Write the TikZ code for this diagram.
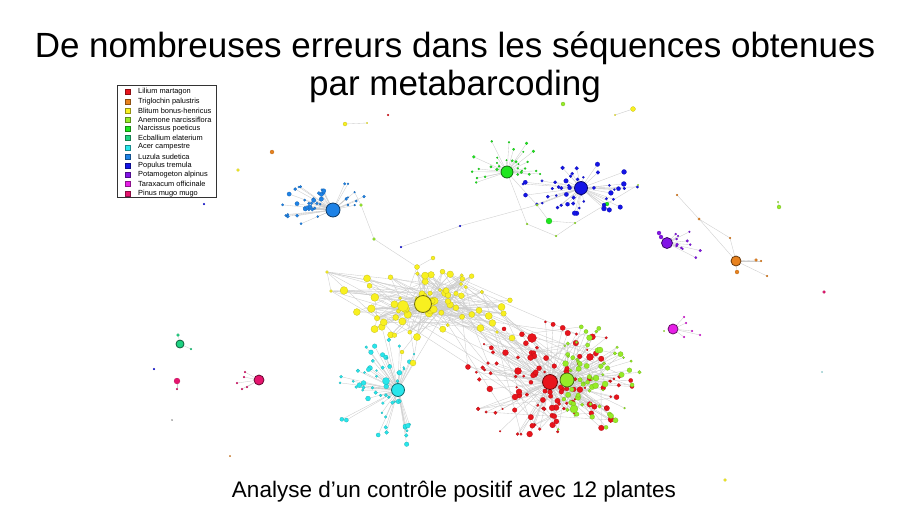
\documentclass[tikz,border=0pt]{standalone}
\usepackage{fontspec}
\setmainfont{Liberation Sans}
\usetikzlibrary{calc,backgrounds}
\definecolor{cLil}{HTML}{E8141C}
\definecolor{cTri}{HTML}{E8821E}
\definecolor{cBli}{HTML}{F8F020}
\definecolor{cAne}{HTML}{96EB28}
\definecolor{cNar}{HTML}{1EE61E}
\definecolor{cEcb}{HTML}{1ED282}
\definecolor{cAce}{HTML}{28E6EB}
\definecolor{cAceL}{HTML}{A8EEF2}
\definecolor{cLuz}{HTML}{1E82E6}
\definecolor{cPop}{HTML}{1414E6}
\definecolor{cPot}{HTML}{8214E6}
\definecolor{cTar}{HTML}{E61EE6}
\definecolor{cPin}{HTML}{E6146E}
\tikzset{
  sat/.style={circle, fill=#1, draw=#1!75!black, line width=0.2pt, inner sep=0pt},
  hub/.style={circle, fill=#1, draw=#1!45!black, line width=0.8pt, inner sep=0pt},
  edge/.style={draw=gray!40, line width=0.35pt},
  legsq/.style={fill=#1, draw=#1!60!black, line width=0.2pt, minimum size=5pt, inner sep=0pt},
  legtxt/.style={font=\fontsize{7.4}{8}\selectfont, anchor=west, inner sep=0pt},
}
\def\asp{1}
% satellites: #1 hub, #2 colour, #3 first index, #4 last index, #5-#6 angle range, #7 dist min, #8 dist max, #9 size min ; \smax size max
\newcommand\fan[9]{%
  \foreach \k in {#3,...,#4}{%
    \pgfmathsetmacro\ang{#5+rnd*(#6-#5)}%
    \pgfmathsetmacro\dd{#7+rnd*(#8-#7)}%
    \pgfmathsetmacro\ss{#9+rnd*(\smax-#9)}%
    \pgfmathsetmacro\dx{\dd*cos(\ang)}%
    \pgfmathsetmacro\dy{\asp*\dd*sin(\ang)}%
    \node[sat=#2, minimum size=\ss pt] (#1-\k) at ($(#1)+(\dx,\dy)$) {};
  }}
% random edges: #1 count, #2 prefix a, #3 n a, #4 prefix b, #5 n b
\newcommand\web[5]{%
  \foreach \k in {1,...,#1}{%
    \pgfmathtruncatemacro\ia{random(1,#3)}%
    \pgfmathtruncatemacro\ib{random(1,#5)}%
    \draw[edge] (#2-\ia) -- (#4-\ib);
  }}
\begin{document}
\begin{tikzpicture}[x=1pt,y=-1pt]
\pgfmathsetseed{12}
\useasboundingbox (0,0) rectangle (910,512);

% titles
\node[anchor=base, font=\fontsize{35}{40}\selectfont] (t1) at (455,57) {De nombreuses erreurs dans les séquences obtenues};
\node[anchor=base, font=\fontsize{35}{40}\selectfont] (t2) at (455,95) {par metabarcoding};
\node[anchor=base, font=\fontsize{22.5}{26}\selectfont] (cap) at (454,497) {Analyse d’un contrôle positif avec 12 plantes};

% legend
\node[draw=black!80, line width=0.6pt, minimum width=99pt, minimum height=112pt, anchor=north west, inner sep=0pt] (leg) at (117,85) {};
\foreach \nm/\cl [count=\i] in {Lilium martagon/cLil, Triglochin palustris/cTri, Blitum bonus-henricus/cBli, Anemone narcissiflora/cAne, Narcissus poeticus/cNar, Ecballium elaterium/cEcb, Acer campestre/cAce, Luzula sudetica/cLuz, Populus tremula/cPop, Potamogeton alpinus/cPot, Taraxacum officinale/cTar, Pinus mugo mugo/cPin}{
  \node[legsq=\cl] (lq\i) at (128,{92+(\i-1)*9.2}) {};
  \node[legtxt] (lt\i) at (138,{92+(\i-1)*9.2}) {\nm};
}

% ---------- satellites (placed first, hubs drawn on top later) ----------
\coordinate (bli) at (423,304);
\coordinate (luz) at (333,210);
\coordinate (nar) at (507,172);
\coordinate (pop) at (581,188);
\coordinate (ace) at (398,390);
\coordinate (lil) at (550,382);
\coordinate (ane) at (567,380);
\coordinate (pot) at (667,243);

\def\asp{0.38}\def\smax{8}
\fan{bli}{cBli}{1}{70}{0}{360}{10}{90}{3}
\def\asp{0.6}\def\smax{4.5}
\fan{luz}{cLuz}{1}{32}{140}{255}{14}{52}{2}
\def\asp{0.7}\def\smax{3}
\fan{luz}{cLuz}{33}{42}{275}{345}{14}{45}{1.5}
\def\asp{0.8}\def\smax{3}
\fan{nar}{cNar}{1}{30}{150}{380}{10}{42}{1.5}
\def\asp{0.42}\def\smax{5}
\fan{pop}{cPop}{1}{48}{0}{360}{10}{62}{1.8}
\def\asp{0.85}\def\smax{5}
\fan{ace}{cAce}{1}{60}{70}{290}{10}{68}{1.8}
\def\asp{0.72}\def\smax{6}
\fan{lil}{cLil}{1}{115}{0}{360}{12}{88}{1.8}
\def\asp{0.75}\def\smax{6}
\fan{ane}{cAne}{1}{65}{-100}{100}{12}{76}{2}
\def\asp{0.7}\def\smax{3}
\fan{pot}{cPot}{1}{12}{-60}{40}{10}{36}{1.8}

% ---------- hubs ----------
\node[hub=cLuz, minimum size=14pt] (luzH) at (luz) {};
\node[hub=cNar, minimum size=12pt] (narH) at (nar) {};
\node[hub=cPop, minimum size=13pt] (popH) at (pop) {};
\node[hub=cBli, minimum size=17pt] (bliH) at (bli) {};
\node[hub=cAce, minimum size=13pt] (aceH) at (ace) {};
\node[hub=cLil, minimum size=15pt] (lilH) at (lil) {};
\node[hub=cAne, minimum size=14pt] (aneH) at (ane) {};
\node[hub=cPot, minimum size=11pt] (potH) at (pot) {};
\node[hub=cTri, minimum size=10pt] (tri) at (736,261) {};
\node[hub=cTar, minimum size=10pt] (tar) at (673,329) {};
\node[hub=cEcb, minimum size=8pt] (ecb) at (180,344) {};
\node[hub=cPin, minimum size=10pt] (pin) at (259,380) {};

% ---------- extra named nodes ----------
\node[sat=cBli, minimum size=11pt] (yb1) at (403,306) {};
\node[sat=cBli, minimum size=3pt] (yl1) at (327,272) {};
\node[sat=cBli, minimum size=3pt] (yl2) at (331,291) {};
\node[sat=cBli, minimum size=5pt] (yt1) at (417,267) {};
\node[sat=cBli, minimum size=4pt] (yt2) at (433,258) {};

\node[sat=cAce, minimum size=7pt] (ab1) at (386,381) {};
\node[sat=cBli, minimum size=6pt] (ay1) at (413,363) {};
\node[sat=cBli, minimum size=4pt] (ay2) at (402,352) {};
\node[sat=cAce, minimum size=2pt] (ac1) at (414,354) {};

\node[sat=cLil, minimum size=9pt] (rb1) at (532,338) {};
\node[sat=cLil, minimum size=7pt] (rb2) at (518,371) {};
\node[sat=cLil, minimum size=6pt] (rb3) at (515,397) {};
\node[sat=cLil, minimum size=7pt] (rb4) at (590,357) {};
\node[sat=cAne, minimum size=8pt] (gb1) at (574,409) {};
\node[sat=cAne, minimum size=6pt] (gb2) at (600,350) {};
\node[sat=cBli, minimum size=6pt] (ry1) at (512,338) {};
\node[sat=cBli, minimum size=3pt] (ry2) at (497,332) {};

\node[sat=cAne, minimum size=3pt] (L1) at (361,205) {};
\node[sat=cAne, minimum size=3pt] (L2) at (374,239) {};
\node[sat=cPop, minimum size=2pt] (D1) at (401,247) {};
\node[sat=cPop, minimum size=2pt] (D2) at (460,226) {};
\node[sat=cAne, minimum size=2.5pt] (G1) at (537,205) {};
\node[sat=cAne, minimum size=2pt] (G2) at (527,224) {};
\node[sat=cAne, minimum size=2pt] (G3) at (556,236) {};
\node[sat=cNar, minimum size=6pt] (G4) at (549,221) {};
\node[sat=cAne, minimum size=2pt] (G5) at (575,223) {};
\node[sat=cAne, minimum size=1.5pt] (G6) at (638,185) {};
\node[sat=cNar, minimum size=4pt] (G7) at (607,204) {};
\node[sat=cPop, minimum size=4pt] (G8) at (604,205) {};

\node[sat=cPot, minimum size=4pt] (pp1) at (659,233) {};
\node[sat=cPot, minimum size=4pt] (pp2) at (661,237) {};

\node[sat=cTri, minimum size=2pt] (O1) at (677,195) {};
\node[sat=cTri, minimum size=2.5pt] (O2) at (699,219) {};
\node[sat=cTri, minimum size=2pt] (O3) at (730,238) {};
\node[sat=cTri, minimum size=3pt] (O4) at (756,260) {};
\node[sat=cTri, minimum size=2pt] (O5) at (761,261) {};
\node[sat=cTri, minimum size=2pt] (O6) at (767,276) {};
\node[sat=cTri, minimum size=4pt] (O7) at (737,272) {};

\foreach \px/\py [count=\i] in {684/317, 686/323, 692/331, 700/335, 684/337}{
  \node[sat=cTar, minimum size=2pt] (tar-\i) at (\px,\py) {};}

\node[sat=cEcb, minimum size=3pt] (ecb-1) at (178,335) {};
\node[sat=cEcb, minimum size=2pt] (ecb-2) at (191,349) {};
\node[sat=cPin, minimum size=6pt] (pk) at (177,381) {};
\node[sat=cPin, minimum size=2pt] (pk-1) at (177,389) {};
\foreach \px/\py [count=\i] in {244/377, 245/372, 237/383, 242/389, 247/387}{
  \node[sat=cPin, minimum size=2pt] (pin-\i) at (\px,\py) {};}

% isolated nodes
\node[sat=cBli, minimum size=4pt] (i1) at (345,124) {};
\node[sat=cBli, minimum size=1.5pt] (i1b) at (367,123) {};
\node[sat=cLil, minimum size=2pt] (i2) at (388,115) {};
\node[sat=cTri, minimum size=4pt] (i3) at (272,152) {};
\node[sat=cBli, minimum size=3pt] (i4) at (238,170) {};
\node[sat=cPop, minimum size=2pt] (i5) at (204,204) {};
\node[sat=cAne, minimum size=4pt] (i6) at (563,104) {};
\node[sat=cBli, minimum size=5pt] (i7) at (633,109) {};
\node[sat=cBli, minimum size=1.5pt] (i7b) at (615,115) {};
\node[sat=cAne, minimum size=4pt] (i8) at (779,207) {};
\node[sat=cAne, minimum size=1.5pt] (i8b) at (778,202) {};
\node[sat=cPin, minimum size=3pt] (i9) at (824,292) {};
\node[sat=cPop, minimum size=2pt] (i10) at (154,369) {};
\node[sat=gray, minimum size=1.2pt] (i11) at (172,420) {};
\node[sat=cTri, minimum size=1.5pt] (i12) at (230,456) {};
\node[sat=cBli, minimum size=3pt] (i13) at (725,480) {};
\node[sat=cAceL, minimum size=1.5pt] (i14) at (822,372) {};
\node[sat=cAne, minimum size=1.5pt] (i15) at (664,331) {};

% ---------- all connectors, behind the nodes ----------
\begin{pgfonlayer}{background}
\fill[white] (0,0) rectangle (910,512);
\foreach \k in {1,...,70}{\draw[edge] (bliH) -- (bli-\k);}
\web{110}{bli}{70}{bli}{70}
\draw[edge] (yb1) -- (bliH);
\foreach \j in {3,9,15,22,31,40}{\draw[edge] (yl1) -- (bli-\j); \draw[edge] (yl2) -- (bli-\j);}
\draw[edge] (yl1) -- (yl2);
\draw[edge] (yt1) -- (bliH); \draw[edge] (yt2) -- (yt1); \draw[edge] (yt1) -- (yb1);

\foreach \k in {1,...,42}{\draw[edge] (luzH) -- (luz-\k);}
\foreach \k in {1,...,30}{\draw[edge] (narH) -- (nar-\k);}
\foreach \k in {1,...,48}{\draw[edge] (popH) -- (pop-\k);}
\foreach \k in {1,...,60}{\draw[edge] (aceH) -- (ace-\k);}
\foreach \k in {1,...,115}{\draw[edge] (lilH) -- (lil-\k);}
\foreach \k in {1,...,65}{\draw[edge] (aneH) -- (ane-\k);}
\foreach \k in {1,...,12}{\draw[edge] (potH) -- (pot-\k);}

\draw[edge] (ab1) -- (aceH); \draw[edge] (ay1) -- (aceH); \draw[edge] (ay2) -- (aceH); \draw[edge] (ac1) -- (aceH);
\draw[edge] (ay1) -- (bliH); \draw[edge] (ay2) -- (bli-5); \draw[edge] (ac1) -- (bli-12);
\draw[edge] (aceH) -- (bli-20); \draw[edge] (aceH) -- (bli-33);

\foreach \n in {rb1,rb2,rb3,rb4,gb1,gb2,ry1}{\draw[edge] (\n) -- (lilH); \draw[edge] (\n) -- (aneH);}
\draw[edge] (ry1) -- (bliH); \draw[edge] (ry2) -- (bli-7); \draw[edge] (ry2) -- (lilH);
\web{40}{lil}{115}{ane}{65}
\web{22}{bli}{70}{lil}{115}
\web{8}{bli}{70}{ane}{65}

\draw[edge] (L1) -- (L2) -- (yt1);
\draw[edge] (L1) -- (luz-35);
\draw[edge] (D1) -- (D2) -- (G1);
\draw[edge] (narH) -- (G1); \draw[edge] (narH) -- (G2);
\draw[edge] (G2) -- (G3) -- (G5) -- (G6);
\draw[edge] (G1) -- (G4) -- (G5);
\draw[edge] (G1) -- (popH); \draw[edge] (G7) -- (popH); \draw[edge] (G8) -- (popH);

\draw[edge] (pp1) -- (potH); \draw[edge] (pp2) -- (potH);

\draw[edge] (O1) -- (O2) -- (tri); \draw[edge] (O2) -- (O3) -- (tri);
\foreach \n in {O4,O5,O6,O7}{\draw[edge] (tri) -- (\n);}
\foreach \i in {1,...,5}{\draw[edge] (tar) -- (tar-\i); \draw[edge] (pin) -- (pin-\i);}
\draw[edge] (ecb) -- (ecb-1); \draw[edge] (ecb) -- (ecb-2); \draw[edge] (pk) -- (pk-1);
\draw[edge] (i1) -- (i1b); \draw[edge] (i7) -- (i7b); \draw[edge] (i8) -- (i8b);
\end{pgfonlayer}
\end{tikzpicture}
\end{document}
